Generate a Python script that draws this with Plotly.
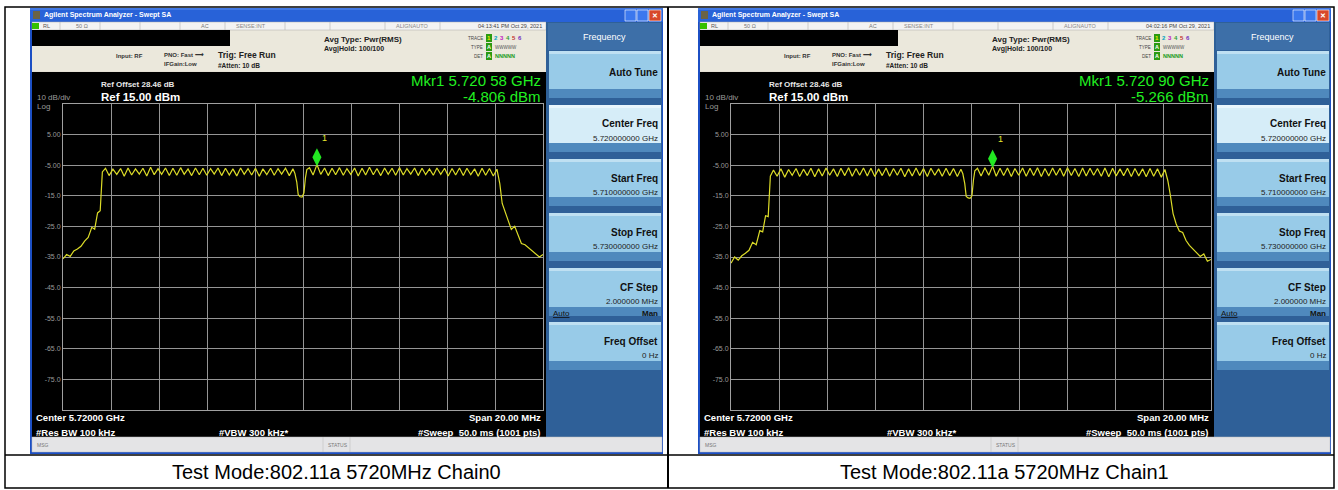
import plotly.graph_objects as go

W, H = 1338, 490
FONT = "Liberation Sans"

# ---------------- data ----------------
FREQ_MHZ = [
    5710.00, 5710.15, 5710.30, 5710.45, 5710.60, 5710.75, 5710.90, 5711.05, 5711.20, 5711.32, 5711.44, 5711.55, 5711.64,
    5711.77, 5711.92, 5712.08, 5712.24, 5712.40, 5712.55, 5712.71, 5712.86, 5713.02, 5713.18,
    5713.33, 5713.49, 5713.65, 5713.80, 5713.96, 5714.11, 5714.27, 5714.43, 5714.58, 5714.74,
    5714.90, 5715.05, 5715.21, 5715.36, 5715.52, 5715.68, 5715.83, 5715.99, 5716.15, 5716.30,
    5716.46, 5716.61, 5716.77, 5716.93, 5717.08, 5717.24, 5717.40, 5717.55, 5717.71, 5717.86,
    5718.02, 5718.18, 5718.33, 5718.49, 5718.65, 5718.80, 5718.96, 5719.11, 5719.27, 5719.43,
    5719.58,
    5719.66, 5719.74, 5719.80, 5719.88, 5719.96, 5720.04, 5720.10, 5720.16,
    5720.27, 5720.42, 5720.58, 5720.74, 5720.90, 5721.05, 5721.21, 5721.36, 5721.52, 5721.68,
    5721.83, 5721.99, 5722.15, 5722.30, 5722.46, 5722.61, 5722.77, 5722.93, 5723.08, 5723.24,
    5723.40, 5723.55, 5723.71, 5723.86, 5724.02, 5724.18, 5724.33, 5724.49, 5724.65, 5724.80,
    5724.96, 5725.11, 5725.27, 5725.43, 5725.58, 5725.74, 5725.90, 5726.05, 5726.21, 5726.36,
    5726.52, 5726.68, 5726.83, 5726.99, 5727.15, 5727.30, 5727.46, 5727.61, 5727.77, 5727.93,
    5728.08,
    5728.20, 5728.30, 5728.42, 5728.55, 5728.68, 5728.82, 5728.96, 5729.10, 5729.25, 5729.40,
    5729.55, 5729.70, 5729.85, 5730.00,
]

CHAIN0_DBM = [
    -35.6, -34.2, -34.8, -33.0, -32.4, -31.5, -29.8, -28.6, -25.3, -25.9, -20.6, -19.9, -7.2,
    -6.0, -8.4, -6.3, -8.0, -6.1, -8.6, -5.9, -8.2, -6.2, -7.9,
    -6.0, -8.5, -5.7, -8.1, -6.1, -8.0, -5.9, -8.4, -6.0, -8.3,
    -5.8, -8.0, -6.2, -8.4, -5.9, -8.1, -6.0, -8.3, -6.1, -7.9,
    -5.9, -8.4, -6.0, -8.2, -6.2, -8.5, -5.9, -8.0, -6.1, -8.2,
    -6.0, -8.6, -6.2, -8.1, -6.0, -8.3, -6.1, -7.9, -6.0, -8.4,
    -6.2,
    -7.6, -10.5, -14.6, -15.3, -15.4, -14.0, -9.2, -6.4,
    -5.8, -8.2, -4.8, -8.0, -5.9, -8.4, -6.0, -8.1, -5.8, -8.3,
    -6.1, -8.0, -5.9, -8.5, -6.0, -8.2, -5.7, -8.1, -6.1, -8.4,
    -5.9, -8.0, -6.0, -8.3, -5.8, -8.2, -6.1, -7.9, -5.9, -8.4,
    -6.0, -8.1, -6.2, -8.3, -5.9, -8.0, -6.0, -8.5, -6.1, -8.2,
    -5.9, -8.4, -6.0, -8.1, -6.2, -8.6, -6.0, -8.3, -6.1, -8.5,
    -6.3,
    -11.0, -17.5, -20.4, -22.8, -26.0, -25.0, -27.6, -30.6, -31.0, -32.0,
    -33.0, -34.2, -35.0, -34.2,
]

CHAIN1_DBM = [
    -37.0, -35.0, -36.0, -34.6, -33.8, -32.8, -30.2, -31.0, -26.4, -26.8, -21.5, -21.8, -8.6,
    -6.6, -8.6, -6.2, -8.9, -6.4, -8.3, -6.1, -8.7, -6.3, -8.4,
    -6.0, -8.8, -6.2, -8.5, -5.9, -8.3, -6.2, -8.7, -6.0, -8.4,
    -5.8, -8.6, -6.1, -8.3, -5.9, -8.5, -6.0, -8.7, -6.2, -8.4,
    -5.9, -8.6, -6.1, -8.3, -6.0, -8.8, -6.2, -8.5, -5.9, -8.4,
    -6.1, -8.7, -6.0, -8.3, -6.2, -8.6, -6.0, -8.4, -6.1, -8.7,
    -6.3,
    -7.8, -11.0, -15.2, -15.7, -15.8, -15.0, -10.0, -6.8,
    -6.0, -8.5, -5.8, -8.3, -5.3, -8.6, -6.0, -8.4, -5.9, -8.7,
    -6.1, -8.3, -5.9, -8.6, -6.0, -8.4, -5.8, -8.7, -6.1, -8.5,
    -5.9, -8.3, -6.0, -8.6, -5.8, -8.4, -6.1, -8.7, -5.9, -8.5,
    -6.0, -8.3, -6.1, -8.6, -5.9, -8.8, -6.0, -8.5, -6.2, -8.4,
    -6.0, -8.7, -6.1, -8.5, -6.2, -8.8, -6.1, -8.6, -6.2, -8.9,
    -6.4,
    -10.0, -14.5, -20.8, -24.2, -26.5, -27.0, -29.6, -31.2, -32.5, -33.8,
    -34.8, -34.0, -36.4, -35.8,
]

MKR_FREQ = [5720.58, 5720.90]
MKR_DBM = [-4.806, -5.266]
MKR_FREQ_TEXT = ["Mkr1 5.720 58 GHz", "Mkr1 5.720 90 GHz"]
MKR_DBM_TEXT = ["-4.806 dBm", "-5.266 dBm"]
TIMESTAMPS = ["04:13:41 PM Oct 29, 2021", "04:02:16 PM Oct 29, 2021"]
CAPTIONS = ["Test Mode:802.11a 5720MHz Chain0", "Test Mode:802.11a 5720MHz Chain1"]

Y_TICKS = [5, -5, -15, -25, -35, -45, -55, -65, -75]
Y_TICK_TEXT = ["5.00", "-5.00", "-15.0", "-25.0", "-35.0", "-45.0", "-55.0", "-65.0", "-75.0"]
X_GRID = [5712, 5714, 5716, 5718, 5720, 5722, 5724, 5726, 5728]

assert len(FREQ_MHZ) == len(CHAIN0_DBM) == len(CHAIN1_DBM), (len(FREQ_MHZ), len(CHAIN0_DBM), len(CHAIN1_DBM))

# ---------------- helpers ----------------
def X(px):
    return px / W


def Y(py):
    return 1 - py / H


shapes = []
annotations = []


def rect(x0, y0, x1, y1, fill, line=None, lw=0, layer="below"):
    shapes.append(dict(type="rect", xref="paper", yref="paper",
                       x0=X(x0), x1=X(x1), y0=Y(y1), y1=Y(y0),
                       fillcolor=fill, line=dict(width=lw, color=line or fill), layer=layer))


def hline(x0, x1, y, color, lw=1, layer="below"):
    shapes.append(dict(type="line", xref="paper", yref="paper", x0=X(x0), x1=X(x1), y0=Y(y), y1=Y(y),
                       line=dict(width=lw, color=color), layer=layer))


def vline(x, y0, y1, color, lw=1, layer="below"):
    shapes.append(dict(type="line", xref="paper", yref="paper", x0=X(x), x1=X(x), y0=Y(y0), y1=Y(y1),
                       line=dict(width=lw, color=color), layer=layer))


def text(x, y, s, size, color, anchor="left", bold=False, family=FONT):
    annotations.append(dict(xref="paper", yref="paper", x=X(x), y=Y(y),
                            text=f"<b>{s}</b>" if bold else s, showarrow=False,
                            xanchor=anchor, yanchor="middle", borderpad=0,
                            font=dict(size=size, color=color, family=family)))


# ---------------- table frame ----------------
rect(5, 7, 1334, 488, "rgba(0,0,0,0)", "black", 1.5, layer="above")
hline(5, 1334, 455, "black", 1.5, layer="above")
vline(668, 7, 488, "black", 2, layer="above")

GRID_L, GRID_R, GRID_T, GRID_B = 63, 543, 104, 410


def panel(dx, i):
    wl, wr = 30 + dx, 663 + dx
    # window frame and title bar
    rect(wl, 8, wr, 454, "#1c4fc4")
    rect(wl, 8, wr, 22, "#2862d8")
    hline(wl, wr, 9, "#5b8ef0", 1)
    rect(wl + 3, 11, wl + 10, 19, "#6b6346")
    text(wl + 13, 15, "Agilent Spectrum Analyzer - Swept SA", 7, "white", bold=True)
    rect(wr - 38, 10, wr - 27, 21, "#3b78ee", "white", 0.6)
    rect(wr - 26, 10, wr - 15, 21, "#3b78ee", "white", 0.6)
    rect(wr - 14, 10, wr - 2, 21, "#d8482a", "white", 0.6)
    text(wr - 8, 15.5, "✕", 7, "white", anchor="center", bold=True)
    # status area
    rect(wl + 2, 22, 546 + dx, 72, "#ebe8dc")
    rect(wl + 2, 22, 546 + dx, 30, "#f3f3f3", "#a8a8a8", 0.5)
    for sx in [60, 100, 140, 180, 225, 285, 330, 385, 440]:
        vline(sx + dx, 22, 30, "#b4b4b4", 0.6)
    rect(wl + 2, 23, wl + 9, 29, "#35c000")
    text(wl + 12, 26, "RL", 5.5, "#555")
    text(75 + dx, 26, "50 Ω", 5.5, "#777")
    text(200 + dx, 26, "AC", 5.5, "#777")
    text(235 + dx, 26, "SENSE:INT", 5.5, "#888")
    text(395 + dx, 26, "ALIGNAUTO", 5.5, "#888")
    text(543 + dx, 26, TIMESTAMPS[i], 5.5, "#444", anchor="right")
    rect(wl + 2, 30, 230 + dx, 46, "black")
    hline(wl + 2, 230 + dx, 72, "#d0cdc2", 0.5)
    text(115 + dx, 56, "Input: RF", 6, "#333", bold=True)
    text(163 + dx, 55, "PNO: Fast ⟶", 6, "#333", bold=True)
    text(163 + dx, 64, "IFGain:Low", 6, "#333", bold=True)
    text(217 + dx, 55, "Trig: Free Run", 8.5, "#222", bold=True)
    text(217 + dx, 65, "#Atten: 10 dB", 6.5, "#222", bold=True)
    text(323 + dx, 40, "Avg Type: Pwr(RMS)", 8, "#222", bold=True)
    text(323 + dx, 49, "Avg|Hold: 100/100", 7, "#222", bold=True)
    text(484 + dx, 38, "TRACE", 4.5, "#444", anchor="right")
    text(484 + dx, 47, "TYPE", 4.5, "#444", anchor="right")
    text(484 + dx, 56, "DET", 4.5, "#444", anchor="right")
    rect(486 + dx, 34, 492 + dx, 42, "#2a9a10")
    text(489 + dx, 38, "1", 6, "#f0f000", anchor="center", bold=True)
    for k, (d, c) in enumerate(zip("23456", ["#00a0c0", "#c020c0", "#30a030", "#c03030", "#7030c0"])):
        text(496 + k * 6 + dx, 38, d, 6, c, anchor="center", bold=True)
    rect(486 + dx, 43, 492 + dx, 51, "#2a9a10")
    text(489 + dx, 47, "A", 5.5, "white", anchor="center", bold=True)
    text(494 + dx, 47, "WWWWW", 4.5, "#555")
    rect(486 + dx, 52, 492 + dx, 60, "#2a9a10")
    text(489 + dx, 56, "A", 5.5, "white", anchor="center", bold=True)
    text(494 + dx, 56, "NNNNN", 5.5, "#1a9a1a", bold=True)
    # black screen
    rect(wl + 2, 72, 546 + dx, 437, "black")
    text(100 + dx, 84, "Ref Offset 28.46 dB", 8, "#e8e8e8", bold=True)
    text(36 + dx, 98, "10 dB/div", 8, "#9a9a9a")
    text(36 + dx, 106, "Log", 8, "#9a9a9a")
    text(100 + dx, 97, "Ref 15.00 dBm", 11.5, "white", bold=True)
    text(542 + dx, 81, MKR_FREQ_TEXT[i], 15, "#21f021", anchor="right")
    text(542 + dx, 97, MKR_DBM_TEXT[i], 15, "#21f021", anchor="right")
    text(35 + dx, 417, "Center 5.72000 GHz", 9.5, "white", bold=True)
    text(542 + dx, 417, "Span 20.00 MHz", 9.5, "white", anchor="right", bold=True)
    text(35 + dx, 432, "#Res BW 100 kHz", 9.5, "white", bold=True)
    text(218 + dx, 432, "#VBW 300 kHz*", 9.5, "white", bold=True)
    text(542 + dx, 432, "#Sweep  50.0 ms (1001 pts)", 9.5, "white", anchor="right", bold=True)
    # softkey panel
    rect(546 + dx, 22, wr - 1, 437, "#2f6098")
    rect(548 + dx, 23, wr - 2, 50, "#3d6fa8")
    text((548 + dx + wr - 2) / 2, 37, "Frequency", 9, "white", anchor="center")
    buttons = [
        (51, 98, "Auto Tune", [], False),
        (105, 152, "Center Freq", ["5.720000000 GHz"], True),
        (159, 206, "Start Freq", ["5.710000000 GHz"], False),
        (213, 261, "Stop Freq", ["5.730000000 GHz"], False),
        (268, 316, "CF Step", ["2.000000 MHz"], False),
        (322, 370, "Freq Offset", ["0 Hz"], False),
    ]
    for top, bot, title, subs, sel in buttons:
        rect(549 + dx, top, wr - 2, bot, "#d6edf8" if sel else "#98cbe8")
        rect(549 + dx, top, wr - 2, top + 3, "#e8f5fc" if sel else "#bfe0f2")
        rect(549 + dx, bot - 9, wr - 2, bot, "#4f89bd")
        ty = top + 21
        text(wr - 4, ty - 2 if subs else ty, title, 10, "#111", anchor="right", bold=True)
        for k, s in enumerate(subs):
            text(wr - 4, ty + 12 + 12 * k, s, 8, "#222", anchor="right")
        if title == "CF Step":
            annotations.append(dict(xref="paper", yref="paper", x=X(551 + dx), y=Y(ty + 24),
                                    text="<u>Auto</u>", showarrow=False, xanchor="left", yanchor="middle",
                                    font=dict(size=8, color="#111", family=FONT)))
            text(wr - 4, ty + 24, "Man", 8, "#111", anchor="right", bold=True)
    # MSG bar
    rect(wl + 2, 437, wr - 1, 452, "#e4e4e6", "#bcbcbc", 0.5)
    vline(323 + dx, 437, 452, "#c0c0c0", 0.6)
    vline(350 + dx, 437, 452, "#c0c0c0", 0.6)
    text(36 + dx, 444.5, "MSG", 5, "#777")
    text(327 + dx, 444.5, "STATUS", 5, "#777")
    # caption
    text(336 + dx, 472, CAPTIONS[i], 20, "black", anchor="center", family="Liberation Sans")


DX = [0, 668]
for i, dx in enumerate(DX):
    panel(dx, i)

fig = go.Figure()
series = [CHAIN0_DBM, CHAIN1_DBM]
for i, dx in enumerate(DX):
    n = "" if i == 0 else "2"
    fig.add_trace(go.Scatter(x=FREQ_MHZ, y=series[i], mode="lines", xaxis="x" + n, yaxis="y" + n,
                             line=dict(color="#dcdc28", width=1.2), showlegend=False, hoverinfo="skip"))
    fig.add_trace(go.Scatter(x=[MKR_FREQ[i]], y=[MKR_DBM[i] + 2.4], mode="markers", xaxis="x" + n, yaxis="y" + n,
                             marker=dict(symbol="diamond-tall", size=13, color="#22e822"),
                             showlegend=False, hoverinfo="skip"))
    annotations.append(dict(xref="x" + n, yref="y" + n, x=MKR_FREQ[i], y=MKR_DBM[i], text="1",
                            showarrow=False, xshift=8, yshift=27,
                            font=dict(size=9, color="#e8e830", family=FONT)))
    dom_x = [X(GRID_L + dx), X(GRID_R + dx)]
    dom_y = [Y(GRID_B), Y(GRID_T)]
    xa = dict(domain=dom_x, range=[5710, 5730], tickvals=X_GRID, showticklabels=False, ticks="",
              showgrid=True, gridcolor="#959595", gridwidth=1, zeroline=False,
              showline=True, mirror=True, linecolor="#a0a0a0", linewidth=1,
              anchor="y" + n)
    ya = dict(domain=dom_y, range=[-85, 15], tickvals=Y_TICKS, ticktext=Y_TICK_TEXT, ticks="",
              showgrid=True, gridcolor="#959595", gridwidth=1, zeroline=False,
              showline=True, mirror=True, linecolor="#a0a0a0", linewidth=1,
              tickfont=dict(size=7, color="#9a9a9a", family=FONT), anchor="x" + n)
    fig.layout["xaxis" + n] = xa
    fig.layout["yaxis" + n] = ya

fig.update_layout(
    width=W, height=H, autosize=False,
    margin=dict(l=0, r=0, t=0, b=0, pad=0),
    paper_bgcolor="white", plot_bgcolor="black",
    shapes=shapes, annotations=annotations,
    font=dict(family=FONT),
)

fig.write_html("out.html", config={"displayModeBar": False},
               post_script="document.body.style.margin='0';document.body.style.overflow='hidden';")
